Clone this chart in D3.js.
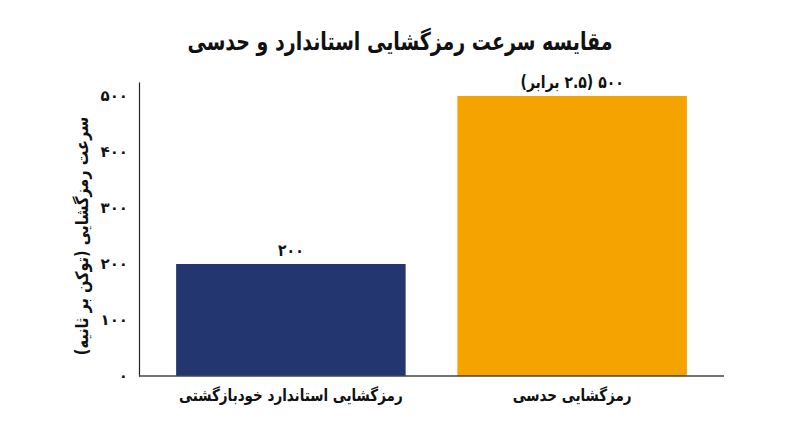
<!DOCTYPE html>
<html lang="fa">
<head>
<meta charset="utf-8">
<script src="https://cdn.jsdelivr.net/npm/d3@7"></script>
<style>
  body { margin: 0; background: #fff; }
  text { font-family: "DejaVu Sans", "Noto Sans", sans-serif; font-weight: bold; }
</style>
</head>
<body>
<svg id="chart"></svg>
<script>
// داده‌ها
const categories = ["رمزگشایی استاندارد خودبازگشتی", "رمزگشایی حدسی"];
const speeds = [200, 500];
const barLabels = ["۲۰۰", "۵۰۰ (۲.۵ برابر)"];
const barColors = ["#24366f", "#f4a300"];
const yTicks = [0, 100, 200, 300, 400, 500];

const WIDTH = 800;
const HEIGHT = 447;
const MARGIN = { top: 82, right: 76, bottom: 71, left: 139 };

// ارقام فارسی
const fa = n => String(n).replace(/\d/g, d => "۰۱۲۳۴۵۶۷۸۹"[d]);

const svg = d3.select("#chart")
      .attr("width", WIDTH)
      .attr("height", HEIGHT);

const xScale = d3.scaleBand()
      .domain(categories)
      .range([MARGIN.left, WIDTH - MARGIN.right])
      .paddingInner(0.184)
      .paddingOuter(0.132);

const yScale = d3.scaleLinear()
      .domain([0, 525])
      .range([HEIGHT - MARGIN.bottom, MARGIN.top]);

const bars = categories.map((c, i) => ({ c, v: speeds[i], label: barLabels[i], color: barColors[i] }));

svg.selectAll(".bar")
      .data(bars)
      .enter()
      .append("rect")
      .attr("class", "bar")
      .attr("x", d => xScale(d.c))
      .attr("y", d => yScale(d.v))
      .attr("width", xScale.bandwidth())
      .attr("height", d => yScale(0) - yScale(d.v))
      .attr("fill", d => d.color);

svg.selectAll(".bar-label")
      .data(bars)
      .enter()
      .append("text")
      .attr("class", "bar-label")
      .attr("transform", d => `translate(${xScale(d.c) + xScale.bandwidth() / 2}, ${yScale(d.v) - 8}) scale(1, 1.2)`)
      .attr("text-anchor", "middle")
      .attr("direction", "rtl")
      .style("font-size", "14px")
      .style("fill", "#111")
      .text(d => d.label);

// محورها
const axisLeft = d3.axisLeft(yScale)
      .tickValues(yTicks)
      .tickSize(0)
      .tickPadding(11)
      .tickFormat(fa);

const gy = svg.append("g")
      .attr("transform", `translate(${MARGIN.left}, 0)`)
      .call(axisLeft);
gy.select(".domain").attr("stroke", "#222").attr("stroke-width", 1.2);
gy.selectAll("text").style("font-size", "15px").style("fill", "#111");

const axisBottom = d3.axisBottom(xScale)
      .tickSize(0)
      .tickPadding(11);

const gx = svg.append("g")
      .attr("transform", `translate(0, ${HEIGHT - MARGIN.bottom})`)
      .call(axisBottom);
gx.select(".domain").attr("stroke", "#444").attr("stroke-width", 1.4)
      .attr("d", `M${MARGIN.left},0H${WIDTH - MARGIN.right}`);
gx.selectAll("text")
      .style("font-size", "13.5px")
      .style("fill", "#111")
      .attr("direction", "rtl")
      .attr("transform", "scale(1, 1.22)");

svg.append("text")
      .attr("transform", `translate(88, ${(yScale(0) + yScale(500)) / 2}) rotate(-90) scale(1, 1.2)`)
      .attr("text-anchor", "middle")
      .attr("direction", "rtl")
      .style("font-size", "14.5px")
      .style("fill", "#111")
      .text("سرعت رمزگشایی (توکن بر ثانیه)");

svg.append("text")
      .attr("transform", "translate(400, 50) scale(1, 1.3)")
      .attr("text-anchor", "middle")
      .attr("direction", "rtl")
      .style("font-size", "19px")
      .style("fill", "#111")
      .text("مقایسه سرعت رمزگشایی استاندارد و حدسی");
</script>
</body>
</html>
